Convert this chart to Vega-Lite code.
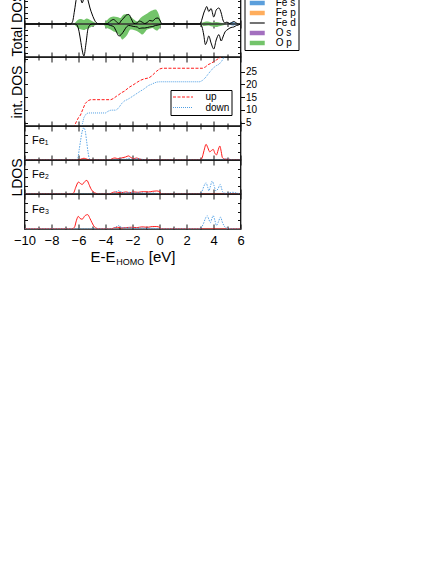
{
"$schema":"https://vega.github.io/schema/vega-lite/v6.json",
"padding":{"left":8.5,"top":-10,"right":0,"bottom":0},
"background":"white",
"spacing":0,
"bounds":"flush",
"config":{
  "font":"Liberation Sans",
  "view":{"stroke":"#111111","strokeWidth":1.3},
  "axis":{"grid":false,"domain":false,"labels":false,"tickColor":"#111111","tickWidth":1,"titleFontWeight":"normal","titleFontSize":14,"titleColor":"#000000","labelColor":"#000000","labelFontSize":13,"labelFlush":false,"labelOverlap":false,"titlePadding":0},
  "legend":{"labelFontSize":10,"labelColor":"#000000","strokeColor":"#000000","fillColor":"#ffffff"}
},
"resolve":{"scale":{"x":"independent","y":"independent","color":"independent","strokeDash":"independent"},"axis":{"x":"independent","y":"independent"},"legend":{"color":"independent","strokeDash":"independent"}},
"datasets":{
"tot":[
{"E":-10,"s":"Fe d","up":0,"dn":0},{"E":-6.6,"s":"Fe d","up":0,"dn":0},{"E":-6.45,"s":"Fe d","up":0.2,"dn":0},{"E":-6.3,"s":"Fe d","up":1.3,"dn":0},{"E":-6.15,"s":"Fe d","up":2.6,"dn":-0.05},{"E":-6.0,"s":"Fe d","up":3.1,"dn":-0.5},{"E":-5.85,"s":"Fe d","up":2.6,"dn":-1.6},{"E":-5.73,"s":"Fe d","up":2.1,"dn":-2.6},{"E":-5.6,"s":"Fe d","up":2.6,"dn":-3.2},{"E":-5.45,"s":"Fe d","up":3.0,"dn":-2.0},{"E":-5.3,"s":"Fe d","up":2.4,"dn":-0.5},{"E":-5.15,"s":"Fe d","up":1.6,"dn":-0.1},{"E":-5.0,"s":"Fe d","up":1.0,"dn":0},{"E":-4.85,"s":"Fe d","up":0.5,"dn":0},{"E":-4.7,"s":"Fe d","up":0.15,"dn":0},{"E":-4.5,"s":"Fe d","up":0.02,"dn":0},{"E":-4.0,"s":"Fe d","up":0,"dn":0},
{"E":-3.87,"s":"Fe d","up":0.02,"dn":-0.03},{"E":-3.63,"s":"Fe d","up":0.3,"dn":-0.15},{"E":-3.4,"s":"Fe d","up":0.45,"dn":-0.25},{"E":-3.25,"s":"Fe d","up":0.3,"dn":-0.6},{"E":-3.0,"s":"Fe d","up":0.05,"dn":-1.2},{"E":-2.8,"s":"Fe d","up":0.4,"dn":-1.0},{"E":-2.64,"s":"Fe d","up":0.6,"dn":-0.7},{"E":-2.45,"s":"Fe d","up":0.9,"dn":-0.3},{"E":-2.27,"s":"Fe d","up":0.95,"dn":-0.15},{"E":-2.05,"s":"Fe d","up":0.4,"dn":-0.2},{"E":-1.9,"s":"Fe d","up":0.05,"dn":-0.25},{"E":-1.65,"s":"Fe d","up":0.1,"dn":-0.3},{"E":-1.5,"s":"Fe d","up":0.3,"dn":-0.45},{"E":-1.3,"s":"Fe d","up":0.2,"dn":-0.4},{"E":-1.1,"s":"Fe d","up":0.05,"dn":-0.4},{"E":-0.9,"s":"Fe d","up":0.15,"dn":-0.35},{"E":-0.75,"s":"Fe d","up":0.35,"dn":-0.3},{"E":-0.5,"s":"Fe d","up":0.3,"dn":-0.25},{"E":-0.3,"s":"Fe d","up":0.55,"dn":-0.15},{"E":-0.1,"s":"Fe d","up":0.6,"dn":-0.1},{"E":0.05,"s":"Fe d","up":0.3,"dn":-0.05},{"E":0.2,"s":"Fe d","up":0,"dn":0},
{"E":3.0,"s":"Fe d","up":0,"dn":0},{"E":3.15,"s":"Fe d","up":0.5,"dn":-0.3},{"E":3.28,"s":"Fe d","up":1.1,"dn":-1.1},{"E":3.4,"s":"Fe d","up":1.5,"dn":-2.06},{"E":3.5,"s":"Fe d","up":1.75,"dn":-1.8},{"E":3.65,"s":"Fe d","up":1.25,"dn":-1.2},{"E":3.82,"s":"Fe d","up":1.55,"dn":-1.9},{"E":4.02,"s":"Fe d","up":0.7,"dn":-2.5},{"E":4.2,"s":"Fe d","up":1.4,"dn":-1.6},{"E":4.4,"s":"Fe d","up":1.6,"dn":-1.06},{"E":4.57,"s":"Fe d","up":1.1,"dn":-1.7},{"E":4.7,"s":"Fe d","up":0.4,"dn":-1.3},{"E":4.85,"s":"Fe d","up":0.1,"dn":-0.8},{"E":5.0,"s":"Fe d","up":0.2,"dn":-0.6},{"E":5.15,"s":"Fe d","up":0.05,"dn":-0.45},{"E":5.3,"s":"Fe d","up":0.1,"dn":-0.35},{"E":5.5,"s":"Fe d","up":0.25,"dn":-0.3},{"E":5.7,"s":"Fe d","up":0.1,"dn":-0.15},{"E":5.85,"s":"Fe d","up":0,"dn":-0.1},{"E":6.0,"s":"Fe d","up":0,"dn":0},
{"E":-10,"s":"O p","up":0,"dn":0},{"E":-6.4,"s":"O p","up":0,"dn":0},{"E":-6.2,"s":"O p","up":0.2,"dn":-0.2},{"E":-6.0,"s":"O p","up":0.45,"dn":-0.45},{"E":-5.8,"s":"O p","up":0.5,"dn":-0.55},{"E":-5.6,"s":"O p","up":0.4,"dn":-0.6},{"E":-5.4,"s":"O p","up":0.55,"dn":-0.5},{"E":-5.2,"s":"O p","up":0.45,"dn":-0.4},{"E":-5.0,"s":"O p","up":0.3,"dn":-0.25},{"E":-4.8,"s":"O p","up":0.15,"dn":-0.15},{"E":-4.6,"s":"O p","up":0.03,"dn":-0.03},{"E":-4.4,"s":"O p","up":0,"dn":0},{"E":-4.15,"s":"O p","up":0,"dn":0},{"E":-4.0,"s":"O p","up":0.2,"dn":-0.33},{"E":-3.8,"s":"O p","up":0.5,"dn":-0.45},{"E":-3.63,"s":"O p","up":0.67,"dn":-0.56},{"E":-3.4,"s":"O p","up":0.75,"dn":-0.75},{"E":-3.14,"s":"O p","up":0.7,"dn":-0.9},{"E":-2.89,"s":"O p","up":0.6,"dn":-1.3},{"E":-2.76,"s":"O p","up":0.8,"dn":-1.56},{"E":-2.64,"s":"O p","up":0.94,"dn":-1.45},{"E":-2.4,"s":"O p","up":1.0,"dn":-1.1},{"E":-2.15,"s":"O p","up":0.75,"dn":-0.56},{"E":-1.9,"s":"O p","up":0.45,"dn":-0.6},{"E":-1.65,"s":"O p","up":0.27,"dn":-0.73},{"E":-1.41,"s":"O p","up":0.6,"dn":-0.95},{"E":-1.28,"s":"O p","up":0.75,"dn":-1.06},{"E":-1.04,"s":"O p","up":0.94,"dn":-0.75},{"E":-0.91,"s":"O p","up":1.05,"dn":-0.56},{"E":-0.67,"s":"O p","up":1.27,"dn":-0.45},{"E":-0.54,"s":"O p","up":1.35,"dn":-0.4},{"E":-0.3,"s":"O p","up":1.44,"dn":-0.6},{"E":-0.17,"s":"O p","up":1.3,"dn":-0.66},{"E":-0.05,"s":"O p","up":0.94,"dn":-0.5},{"E":0.07,"s":"O p","up":0.4,"dn":-0.23},{"E":0.15,"s":"O p","up":0,"dn":0},{"E":2.9,"s":"O p","up":0,"dn":0},{"E":3.1,"s":"O p","up":0.1,"dn":-0.1},{"E":3.3,"s":"O p","up":0.2,"dn":-0.2},{"E":3.6,"s":"O p","up":0.25,"dn":-0.15},{"E":3.9,"s":"O p","up":0.15,"dn":-0.25},{"E":4.2,"s":"O p","up":0.2,"dn":-0.3},{"E":4.5,"s":"O p","up":0.12,"dn":-0.2},{"E":4.8,"s":"O p","up":0.05,"dn":-0.1},{"E":5.0,"s":"O p","up":0,"dn":0},{"E":6,"s":"O p","up":0,"dn":0},
{"E":-10,"s":"Fe s","up":0,"dn":0},{"E":-4.0,"s":"Fe s","up":0,"dn":0},{"E":-3.85,"s":"Fe s","up":0.1,"dn":-0.05},{"E":-3.65,"s":"Fe s","up":0.05,"dn":-0.1},{"E":-3.45,"s":"Fe s","up":0,"dn":0},{"E":5.0,"s":"Fe s","up":0,"dn":0},{"E":5.2,"s":"Fe s","up":0.1,"dn":-0.08},{"E":5.45,"s":"Fe s","up":0.2,"dn":-0.15},{"E":5.7,"s":"Fe s","up":0.05,"dn":-0.05},{"E":5.9,"s":"Fe s","up":0,"dn":0},{"E":6,"s":"Fe s","up":0,"dn":0},
{"E":-10,"s":"Fe p","up":0,"dn":0},{"E":-3.1,"s":"Fe p","up":0,"dn":0},{"E":-2.9,"s":"Fe p","up":0.08,"dn":-0.05},{"E":-2.7,"s":"Fe p","up":0,"dn":0},{"E":-0.9,"s":"Fe p","up":0,"dn":0},{"E":-0.7,"s":"Fe p","up":0.1,"dn":-0.05},{"E":-0.5,"s":"Fe p","up":0,"dn":0},{"E":6,"s":"Fe p","up":0,"dn":0},
{"E":-10,"s":"O s","up":0,"dn":0},{"E":6,"s":"O s","up":0,"dn":0}
],
"idos":[
{"E":-10,"spin":"up","N":0},{"E":-6.6,"spin":"up","N":0},{"E":-6.45,"spin":"up","N":1.5},{"E":-6.3,"spin":"up","N":3.7},{"E":-6.15,"spin":"up","N":5.5},{"E":-6.0,"spin":"up","N":7},{"E":-5.85,"spin":"up","N":8},{"E":-5.7,"spin":"up","N":10},{"E":-5.5,"spin":"up","N":12.5},{"E":-5.3,"spin":"up","N":13.6},{"E":-5.1,"spin":"up","N":14},{"E":-3.6,"spin":"up","N":14},{"E":-3.4,"spin":"up","N":14.5},{"E":-3.2,"spin":"up","N":15.3},{"E":-3.0,"spin":"up","N":16},{"E":-2.8,"spin":"up","N":16.8},{"E":-2.6,"spin":"up","N":17.3},{"E":-2.4,"spin":"up","N":18.2},{"E":-2.2,"spin":"up","N":19},{"E":-2.0,"spin":"up","N":19.6},{"E":-1.8,"spin":"up","N":20.3},{"E":-1.6,"spin":"up","N":21},{"E":-1.4,"spin":"up","N":21.6},{"E":-1.2,"spin":"up","N":22},{"E":-1.0,"spin":"up","N":22.3},{"E":-0.8,"spin":"up","N":22.5},{"E":-0.6,"spin":"up","N":23.2},{"E":-0.4,"spin":"up","N":24.2},{"E":-0.2,"spin":"up","N":25.2},{"E":0.0,"spin":"up","N":26},{"E":0.2,"spin":"up","N":26.3},{"E":3.2,"spin":"up","N":26.3},{"E":3.4,"spin":"up","N":26.8},{"E":3.6,"spin":"up","N":27.7},{"E":3.8,"spin":"up","N":28.2},{"E":4.0,"spin":"up","N":28.8},{"E":4.2,"spin":"up","N":29.5},{"E":4.4,"spin":"up","N":30.2},{"E":4.6,"spin":"up","N":31},{"E":4.8,"spin":"up","N":31.5},{"E":6,"spin":"up","N":32},
{"E":-10,"spin":"down","N":0},{"E":-6.0,"spin":"down","N":0},{"E":-5.9,"spin":"down","N":1.5},{"E":-5.8,"spin":"down","N":3},{"E":-5.7,"spin":"down","N":4.8},{"E":-5.6,"spin":"down","N":7},{"E":-5.45,"spin":"down","N":8.3},{"E":-5.3,"spin":"down","N":8.8},{"E":-4.0,"spin":"down","N":8.8},{"E":-3.8,"spin":"down","N":9.5},{"E":-3.6,"spin":"down","N":9.9},{"E":-3.2,"spin":"down","N":9.9},{"E":-3.0,"spin":"down","N":11},{"E":-2.8,"spin":"down","N":12.5},{"E":-2.6,"spin":"down","N":13.5},{"E":-2.4,"spin":"down","N":14},{"E":-2.2,"spin":"down","N":14.6},{"E":-2.0,"spin":"down","N":15.3},{"E":-1.8,"spin":"down","N":16},{"E":-1.6,"spin":"down","N":16.7},{"E":-1.4,"spin":"down","N":17.4},{"E":-1.2,"spin":"down","N":18},{"E":-1.0,"spin":"down","N":18.8},{"E":-0.8,"spin":"down","N":19.6},{"E":-0.6,"spin":"down","N":20},{"E":-0.4,"spin":"down","N":20.5},{"E":-0.2,"spin":"down","N":20.9},{"E":0.0,"spin":"down","N":21},{"E":3.0,"spin":"down","N":21},{"E":3.2,"spin":"down","N":21.6},{"E":3.4,"spin":"down","N":22.6},{"E":3.6,"spin":"down","N":24},{"E":3.8,"spin":"down","N":25.3},{"E":4.0,"spin":"down","N":26.5},{"E":4.2,"spin":"down","N":27.3},{"E":4.4,"spin":"down","N":27.8},{"E":4.6,"spin":"down","N":29},{"E":4.8,"spin":"down","N":30.8},{"E":5.0,"spin":"down","N":32},{"E":6,"spin":"down","N":33}
],
"ldos":[
{"E":-10,"atom":"Fe1","spin":"up","v":0},{"E":-6.0,"atom":"Fe1","spin":"up","v":0},{"E":-5.8,"atom":"Fe1","spin":"up","v":0.03},{"E":-5.6,"atom":"Fe1","spin":"up","v":0.05},{"E":-5.4,"atom":"Fe1","spin":"up","v":0.03},{"E":-5.2,"atom":"Fe1","spin":"up","v":0},{"E":-3.7,"atom":"Fe1","spin":"up","v":0},{"E":-3.5,"atom":"Fe1","spin":"up","v":0.04},{"E":-3.3,"atom":"Fe1","spin":"up","v":0.06},{"E":-3.1,"atom":"Fe1","spin":"up","v":0.04},{"E":-2.9,"atom":"Fe1","spin":"up","v":0.05},{"E":-2.7,"atom":"Fe1","spin":"up","v":0.07},{"E":-2.5,"atom":"Fe1","spin":"up","v":0.09},{"E":-2.3,"atom":"Fe1","spin":"up","v":0.12},{"E":-2.1,"atom":"Fe1","spin":"up","v":0.07},{"E":-1.9,"atom":"Fe1","spin":"up","v":0.04},{"E":-1.7,"atom":"Fe1","spin":"up","v":0.06},{"E":-1.5,"atom":"Fe1","spin":"up","v":0.03},{"E":-1.2,"atom":"Fe1","spin":"up","v":0.01},{"E":-0.8,"atom":"Fe1","spin":"up","v":0},{"E":3.0,"atom":"Fe1","spin":"up","v":0},{"E":3.15,"atom":"Fe1","spin":"up","v":0.06},{"E":3.3,"atom":"Fe1","spin":"up","v":0.28},{"E":3.45,"atom":"Fe1","spin":"up","v":0.46},{"E":3.58,"atom":"Fe1","spin":"up","v":0.36},{"E":3.72,"atom":"Fe1","spin":"up","v":0.24},{"E":3.85,"atom":"Fe1","spin":"up","v":0.28},{"E":3.98,"atom":"Fe1","spin":"up","v":0.31},{"E":4.1,"atom":"Fe1","spin":"up","v":0.2},{"E":4.22,"atom":"Fe1","spin":"up","v":0.15},{"E":4.35,"atom":"Fe1","spin":"up","v":0.3},{"E":4.47,"atom":"Fe1","spin":"up","v":0.41},{"E":4.57,"atom":"Fe1","spin":"up","v":0.25},{"E":4.66,"atom":"Fe1","spin":"up","v":0.07},{"E":4.8,"atom":"Fe1","spin":"up","v":0.03},{"E":5.0,"atom":"Fe1","spin":"up","v":0.02},{"E":5.2,"atom":"Fe1","spin":"up","v":0.02},{"E":5.4,"atom":"Fe1","spin":"up","v":0},{"E":6,"atom":"Fe1","spin":"up","v":0},
{"E":-10,"atom":"Fe1","spin":"down","v":0},{"E":-6.2,"atom":"Fe1","spin":"down","v":0},{"E":-6.05,"atom":"Fe1","spin":"down","v":0.06},{"E":-5.95,"atom":"Fe1","spin":"down","v":0.3},{"E":-5.85,"atom":"Fe1","spin":"down","v":0.56},{"E":-5.72,"atom":"Fe1","spin":"down","v":0.85},{"E":-5.6,"atom":"Fe1","spin":"down","v":0.95},{"E":-5.5,"atom":"Fe1","spin":"down","v":0.85},{"E":-5.4,"atom":"Fe1","spin":"down","v":0.56},{"E":-5.3,"atom":"Fe1","spin":"down","v":0.25},{"E":-5.2,"atom":"Fe1","spin":"down","v":0.05},{"E":-5.05,"atom":"Fe1","spin":"down","v":0},{"E":-3.4,"atom":"Fe1","spin":"down","v":0},{"E":-3.1,"atom":"Fe1","spin":"down","v":0.02},{"E":-2.8,"atom":"Fe1","spin":"down","v":0.03},{"E":-2.5,"atom":"Fe1","spin":"down","v":0.02},{"E":-2.25,"atom":"Fe1","spin":"down","v":0.05},{"E":-2.0,"atom":"Fe1","spin":"down","v":0.02},{"E":-1.6,"atom":"Fe1","spin":"down","v":0.04},{"E":-1.3,"atom":"Fe1","spin":"down","v":0.02},{"E":-0.8,"atom":"Fe1","spin":"down","v":0},{"E":4.4,"atom":"Fe1","spin":"down","v":0},{"E":4.7,"atom":"Fe1","spin":"down","v":0.02},{"E":5.0,"atom":"Fe1","spin":"down","v":0.03},{"E":5.3,"atom":"Fe1","spin":"down","v":0.01},{"E":5.6,"atom":"Fe1","spin":"down","v":0},{"E":6,"atom":"Fe1","spin":"down","v":0},
{"E":-10,"atom":"Fe2","spin":"up","v":0},{"E":-6.5,"atom":"Fe2","spin":"up","v":0},{"E":-6.35,"atom":"Fe2","spin":"up","v":0.04},{"E":-6.2,"atom":"Fe2","spin":"up","v":0.2},{"E":-6.0,"atom":"Fe2","spin":"up","v":0.35},{"E":-5.86,"atom":"Fe2","spin":"up","v":0.31},{"E":-5.73,"atom":"Fe2","spin":"up","v":0.28},{"E":-5.55,"atom":"Fe2","spin":"up","v":0.36},{"E":-5.38,"atom":"Fe2","spin":"up","v":0.4},{"E":-5.22,"atom":"Fe2","spin":"up","v":0.28},{"E":-5.1,"atom":"Fe2","spin":"up","v":0.17},{"E":-4.9,"atom":"Fe2","spin":"up","v":0.06},{"E":-4.7,"atom":"Fe2","spin":"up","v":0.02},{"E":-4.5,"atom":"Fe2","spin":"up","v":0},{"E":-3.7,"atom":"Fe2","spin":"up","v":0},{"E":-3.5,"atom":"Fe2","spin":"up","v":0.04},{"E":-3.3,"atom":"Fe2","spin":"up","v":0.06},{"E":-3.1,"atom":"Fe2","spin":"up","v":0.05},{"E":-2.8,"atom":"Fe2","spin":"up","v":0.04},{"E":-2.5,"atom":"Fe2","spin":"up","v":0.06},{"E":-2.2,"atom":"Fe2","spin":"up","v":0.04},{"E":-1.9,"atom":"Fe2","spin":"up","v":0.06},{"E":-1.6,"atom":"Fe2","spin":"up","v":0.05},{"E":-1.2,"atom":"Fe2","spin":"up","v":0.07},{"E":-0.8,"atom":"Fe2","spin":"up","v":0.06},{"E":-0.5,"atom":"Fe2","spin":"up","v":0.08},{"E":-0.2,"atom":"Fe2","spin":"up","v":0.09},{"E":0.0,"atom":"Fe2","spin":"up","v":0.07},{"E":0.1,"atom":"Fe2","spin":"up","v":0},{"E":6,"atom":"Fe2","spin":"up","v":0},
{"E":-10,"atom":"Fe2","spin":"down","v":0},{"E":-3.5,"atom":"Fe2","spin":"down","v":0},{"E":-3.3,"atom":"Fe2","spin":"down","v":0.04},{"E":-3.05,"atom":"Fe2","spin":"down","v":0.1},{"E":-2.85,"atom":"Fe2","spin":"down","v":0.06},{"E":-2.6,"atom":"Fe2","spin":"down","v":0.03},{"E":-2.2,"atom":"Fe2","spin":"down","v":0.05},{"E":-1.9,"atom":"Fe2","spin":"down","v":0.03},{"E":-1.4,"atom":"Fe2","spin":"down","v":0.04},{"E":-1.0,"atom":"Fe2","spin":"down","v":0.02},{"E":-0.5,"atom":"Fe2","spin":"down","v":0.03},{"E":0,"atom":"Fe2","spin":"down","v":0},{"E":3.0,"atom":"Fe2","spin":"down","v":0},{"E":3.15,"atom":"Fe2","spin":"down","v":0.08},{"E":3.3,"atom":"Fe2","spin":"down","v":0.24},{"E":3.45,"atom":"Fe2","spin":"down","v":0.33},{"E":3.57,"atom":"Fe2","spin":"down","v":0.2},{"E":3.66,"atom":"Fe2","spin":"down","v":0.09},{"E":3.78,"atom":"Fe2","spin":"down","v":0.24},{"E":3.9,"atom":"Fe2","spin":"down","v":0.38},{"E":4.03,"atom":"Fe2","spin":"down","v":0.26},{"E":4.18,"atom":"Fe2","spin":"down","v":0.09},{"E":4.33,"atom":"Fe2","spin":"down","v":0.15},{"E":4.5,"atom":"Fe2","spin":"down","v":0.28},{"E":4.6,"atom":"Fe2","spin":"down","v":0.16},{"E":4.7,"atom":"Fe2","spin":"down","v":0.05},{"E":4.9,"atom":"Fe2","spin":"down","v":0.02},{"E":5.15,"atom":"Fe2","spin":"down","v":0.03},{"E":5.4,"atom":"Fe2","spin":"down","v":0.05},{"E":5.6,"atom":"Fe2","spin":"down","v":0.04},{"E":5.8,"atom":"Fe2","spin":"down","v":0.02},{"E":6,"atom":"Fe2","spin":"down","v":0.01},
{"E":-10,"atom":"Fe3","spin":"up","v":0},{"E":-6.5,"atom":"Fe3","spin":"up","v":0},{"E":-6.3,"atom":"Fe3","spin":"up","v":0.05},{"E":-6.15,"atom":"Fe3","spin":"up","v":0.25},{"E":-6.02,"atom":"Fe3","spin":"up","v":0.36},{"E":-5.88,"atom":"Fe3","spin":"up","v":0.3},{"E":-5.73,"atom":"Fe3","spin":"up","v":0.28},{"E":-5.52,"atom":"Fe3","spin":"up","v":0.38},{"E":-5.32,"atom":"Fe3","spin":"up","v":0.41},{"E":-5.15,"atom":"Fe3","spin":"up","v":0.3},{"E":-5.0,"atom":"Fe3","spin":"up","v":0.18},{"E":-4.82,"atom":"Fe3","spin":"up","v":0.06},{"E":-4.65,"atom":"Fe3","spin":"up","v":0.02},{"E":-4.5,"atom":"Fe3","spin":"up","v":0},{"E":-3.6,"atom":"Fe3","spin":"up","v":0},{"E":-3.4,"atom":"Fe3","spin":"up","v":0.03},{"E":-3.1,"atom":"Fe3","spin":"up","v":0.05},{"E":-2.8,"atom":"Fe3","spin":"up","v":0.03},{"E":-2.5,"atom":"Fe3","spin":"up","v":0.04},{"E":-2.1,"atom":"Fe3","spin":"up","v":0.05},{"E":-1.7,"atom":"Fe3","spin":"up","v":0.04},{"E":-1.3,"atom":"Fe3","spin":"up","v":0.06},{"E":-0.9,"atom":"Fe3","spin":"up","v":0.05},{"E":-0.5,"atom":"Fe3","spin":"up","v":0.07},{"E":-0.2,"atom":"Fe3","spin":"up","v":0.07},{"E":0.0,"atom":"Fe3","spin":"up","v":0.05},{"E":0.1,"atom":"Fe3","spin":"up","v":0},{"E":6,"atom":"Fe3","spin":"up","v":0},
{"E":-10,"atom":"Fe3","spin":"down","v":0},{"E":-3.5,"atom":"Fe3","spin":"down","v":0},{"E":-3.25,"atom":"Fe3","spin":"down","v":0.05},{"E":-3.05,"atom":"Fe3","spin":"down","v":0.1},{"E":-2.85,"atom":"Fe3","spin":"down","v":0.05},{"E":-2.5,"atom":"Fe3","spin":"down","v":0.03},{"E":-2.2,"atom":"Fe3","spin":"down","v":0.04},{"E":-1.8,"atom":"Fe3","spin":"down","v":0.02},{"E":-1.4,"atom":"Fe3","spin":"down","v":0.03},{"E":-1.0,"atom":"Fe3","spin":"down","v":0.02},{"E":-0.5,"atom":"Fe3","spin":"down","v":0.02},{"E":0,"atom":"Fe3","spin":"down","v":0},{"E":3.0,"atom":"Fe3","spin":"down","v":0},{"E":3.12,"atom":"Fe3","spin":"down","v":0.05},{"E":3.25,"atom":"Fe3","spin":"down","v":0.15},{"E":3.4,"atom":"Fe3","spin":"down","v":0.3},{"E":3.53,"atom":"Fe3","spin":"down","v":0.38},{"E":3.65,"atom":"Fe3","spin":"down","v":0.28},{"E":3.77,"atom":"Fe3","spin":"down","v":0.18},{"E":3.88,"atom":"Fe3","spin":"down","v":0.3},{"E":3.98,"atom":"Fe3","spin":"down","v":0.38},{"E":4.1,"atom":"Fe3","spin":"down","v":0.25},{"E":4.22,"atom":"Fe3","spin":"down","v":0.1},{"E":4.36,"atom":"Fe3","spin":"down","v":0.2},{"E":4.52,"atom":"Fe3","spin":"down","v":0.34},{"E":4.65,"atom":"Fe3","spin":"down","v":0.2},{"E":4.77,"atom":"Fe3","spin":"down","v":0.1},{"E":4.95,"atom":"Fe3","spin":"down","v":0.03},{"E":5.2,"atom":"Fe3","spin":"down","v":0.01},{"E":5.5,"atom":"Fe3","spin":"down","v":0},{"E":6,"atom":"Fe3","spin":"down","v":0}
]
},
"vconcat":[
{
 "width":216,"height":66,
 "data":{"name":"tot"},
 "resolve":{"axis":{"x":"independent","y":"independent"}},
 "layer":[
  {"transform":[{"filter":"datum.s === 'O p'"}],
   "mark":{"type":"area","clip":true,"interpolate":"monotone"},
   "encoding":{
    "x":{"field":"E","type":"quantitative","scale":{"domain":[-10,6],"nice":false,"zero":false},"axis":{"orient":"bottom","values":[-10,-8,-6,-4,-2,0,2,4,6],"tickSize":-5,"title":null}},
    "y":{"field":"up","type":"quantitative","stack":null,"scale":{"domain":[-3.3,3.3],"nice":false,"zero":false},"axis":{"orient":"left","values":[-2.85,-2.28,-1.71,-1.14,-0.57,0.57,1.14,1.71,2.28,2.85],"tickSize":-3,"title":"Total DOS"}},
    "color":{"field":"s","type":"nominal","scale":{"domain":["Fe s","Fe p","Fe d","O s","O p"],"range":["#5b9fdc","#ffad5c","#000000","#a36fbf","#73c46a"]},
      "legend":{"orient":"none","legendX":220,"legendY":5,"title":null,"padding":2,"rowPadding":0,"symbolOffset":5.75,"labelOffset":13.5,"symbolSize":56,"labelFontSize":10,"strokeColor":"#000000","fillColor":"#ffffff","symbolType":"M-2,-0.6H2V0.6H-2Z",
        "encode":{"symbols":{"update":{"shape":{"signal":"datum.value === 'Fe d' ? 'M-2,0H2' : 'M-2,-0.6H2V0.6H-2Z'"},"stroke":{"value":"#000000"},"strokeWidth":{"signal":"datum.value === 'Fe d' ? 1.1 : 0"}}}}}}
   }},
  {"transform":[{"filter":"datum.s === 'O p'"}],
   "mark":{"type":"area","clip":true,"interpolate":"monotone"},
   "encoding":{
    "x":{"field":"E","type":"quantitative","scale":{"domain":[-10,6],"nice":false,"zero":false},"axis":{"orient":"bottom","values":[-9,-7,-5,-3,-1,1,3,5],"tickSize":-3,"title":null}},
    "y":{"field":"dn","type":"quantitative","stack":null,"scale":{"domain":[-3.3,3.3],"nice":false,"zero":false},"axis":{"orient":"right","values":[-2.85,-2.28,-1.71,-1.14,-0.57,0.57,1.14,1.71,2.28,2.85],"tickSize":-3,"title":null}},
    "color":{"field":"s","type":"nominal"}
   }},
  {"transform":[{"filter":"datum.s !== 'O p' && datum.s !== 'Fe d'"}],
   "mark":{"type":"area","clip":true,"interpolate":"monotone"},
   "encoding":{
    "x":{"field":"E","type":"quantitative","axis":{"orient":"bottom","values":[-10,-8,-6,-4,-2,0,2,4,6],"tickSize":-8,"offset":-29,"title":null}},
    "y":{"field":"up","type":"quantitative","stack":null,"axis":null},
    "color":{"field":"s","type":"nominal"}
   }},
  {"transform":[{"filter":"datum.s !== 'O p' && datum.s !== 'Fe d'"}],
   "mark":{"type":"area","clip":true,"interpolate":"monotone"},
   "encoding":{
    "x":{"field":"E","type":"quantitative","axis":{"orient":"bottom","values":[-9,-7,-5,-3,-1,1,3,5],"tickSize":-5,"offset":-30.5,"title":null}},
    "y":{"field":"dn","type":"quantitative","stack":null,"axis":null},
    "color":{"field":"s","type":"nominal"}
   }},
  {"data":{"values":[{}]},
   "mark":{"type":"rule","color":"#333333","strokeWidth":1.5},
   "encoding":{"y":{"datum":0,"type":"quantitative","axis":null}}},
  {"transform":[{"filter":"datum.s === 'Fe d'"}],
   "mark":{"type":"line","clip":true,"strokeWidth":1,"interpolate":"monotone"},
   "encoding":{
    "x":{"field":"E","type":"quantitative","axis":null},
    "y":{"field":"up","type":"quantitative","axis":null},
    "color":{"field":"s","type":"nominal"}
   }},
  {"transform":[{"filter":"datum.s === 'Fe d'"}],
   "mark":{"type":"line","clip":true,"strokeWidth":1,"interpolate":"monotone"},
   "encoding":{
    "x":{"field":"E","type":"quantitative","axis":null},
    "y":{"field":"dn","type":"quantitative","axis":null},
    "color":{"field":"s","type":"nominal"}
   }}
 ]
},
{
 "width":216,"height":69,
 "data":{"name":"idos"},
 "resolve":{"axis":{"x":"independent","y":"independent"}},
 "layer":[
  {"mark":{"type":"line","clip":true,"strokeWidth":1},
   "encoding":{
    "x":{"field":"E","type":"quantitative","scale":{"domain":[-10,6],"nice":false,"zero":false},"axis":{"orient":"bottom","values":[-10,-8,-6,-4,-2,0,2,4,6],"tickSize":-5,"title":null}},
    "y":{"field":"N","type":"quantitative","scale":{"domain":[3.7,30.7],"nice":false,"zero":false},"axis":{"orient":"left","values":[5,10,15,20,25,30],"tickSize":-3,"title":"int. DOS"}},
    "color":{"field":"spin","type":"nominal","scale":{"domain":["up","down"],"range":["#ff1a1a","#4f9fe3"]},
      "legend":{"orient":"none","legendX":146,"legendY":33,"title":null,"padding":2,"rowPadding":0.5,"symbolOffset":5.5,"labelOffset":17.5,"symbolType":"M-4,0H4","symbolSize":25,"symbolStrokeWidth":1,"labelFontSize":10,"strokeColor":"#000000","fillColor":"#ffffff",
        "encode":{"symbols":{"update":{"strokeDash":{"signal":"datum.value === 'up' ? [3,1.5] : [1,1]"},"stroke":{"signal":"datum.value === 'up' ? '#ff1a1a' : '#4f9fe3'"},"strokeWidth":{"value":1}}}}}},
    "strokeDash":{"field":"spin","type":"nominal","scale":{"domain":["up","down"],"range":[[3,1.5],[1,1]]},"legend":null}
   }},
  {"data":{"values":[{}]},"mark":{"type":"point","opacity":0},
   "encoding":{
    "x":{"datum":0,"type":"quantitative","axis":{"orient":"bottom","values":[-9,-7,-5,-3,-1,1,3,5],"tickSize":-3,"title":null}},
    "y":{"datum":10,"type":"quantitative","axis":{"orient":"right","values":[5,10,15,20,25],"labels":true,"tickSize":4,"labelFontSize":10,"labelPadding":1,"title":null}}
   }},
  {"data":{"values":[{}]},"mark":{"type":"point","opacity":0},
   "encoding":{
    "x":{"datum":0,"type":"quantitative","axis":{"orient":"top","values":[-10,-8,-6,-4,-2,0,2,4,6],"tickSize":-5,"title":null}},
    "y":{"datum":10,"type":"quantitative","axis":null}
   }},
  {"data":{"values":[{}]},"mark":{"type":"point","opacity":0},
   "encoding":{
    "x":{"datum":0,"type":"quantitative","axis":{"orient":"top","values":[-9,-7,-5,-3,-1,1,3,5],"tickSize":-3,"title":null}},
    "y":{"datum":10,"type":"quantitative","axis":null}
   }}
 ]
},
{
 "width":216,"height":34,
 "data":{"name":"ldos"},
 "resolve":{"axis":{"x":"independent","y":"independent"}},
 "layer":[
  {"transform":[{"filter":"datum.atom === 'Fe1'"}],
   "mark":{"type":"line","clip":true,"strokeWidth":1,"interpolate":"monotone"},
   "encoding":{
    "x":{"field":"E","type":"quantitative","scale":{"domain":[-10,6],"nice":false,"zero":false},"axis":{"orient":"bottom","values":[-10,-8,-6,-4,-2,0,2,4,6],"tickSize":-5,"title":null}},
    "y":{"field":"v","type":"quantitative","scale":{"domain":[0,1],"nice":false,"zero":false},"axis":{"orient":"left","values":[0.25,0.5,0.75],"tickSize":-3,"title":null}},
    "color":{"field":"spin","type":"nominal","scale":{"domain":["up","down"],"range":["#ff1a1a","#5aa5e6"]},"legend":null},
    "strokeDash":{"field":"spin","type":"nominal","scale":{"domain":["up","down"],"range":[[6,0],[1.5,1.2]]},"legend":null}
   }},
  {"data":{"values":[{}]},"mark":{"type":"text","text":"Fe₁","align":"left","baseline":"alphabetic","fontSize":11,"color":"#000000"},
   "encoding":{
    "x":{"datum":-9.45,"type":"quantitative","axis":{"orient":"bottom","values":[-9,-7,-5,-3,-1,1,3,5],"tickSize":-3,"title":null}},
    "y":{"datum":0.47,"type":"quantitative","axis":{"orient":"right","values":[0.25,0.5,0.75],"tickSize":-3,"title":null}}
   }},
  {"data":{"values":[{}]},"mark":{"type":"point","opacity":0},
   "encoding":{
    "x":{"datum":0,"type":"quantitative","axis":{"orient":"top","values":[-10,-8,-6,-4,-2,0,2,4,6],"tickSize":-5,"title":null}},
    "y":{"datum":0.5,"type":"quantitative","axis":null}
   }},
  {"data":{"values":[{}]},"mark":{"type":"point","opacity":0},
   "encoding":{
    "x":{"datum":0,"type":"quantitative","axis":{"orient":"top","values":[-9,-7,-5,-3,-1,1,3,5],"tickSize":-3,"title":null}},
    "y":{"datum":0.5,"type":"quantitative","axis":null}
   }}
 ]
},
{
 "width":216,"height":34,
 "data":{"name":"ldos"},
 "resolve":{"axis":{"x":"independent","y":"independent"}},
 "layer":[
  {"transform":[{"filter":"datum.atom === 'Fe2'"}],
   "mark":{"type":"line","clip":true,"strokeWidth":1,"interpolate":"monotone"},
   "encoding":{
    "x":{"field":"E","type":"quantitative","scale":{"domain":[-10,6],"nice":false,"zero":false},"axis":{"orient":"bottom","values":[-10,-8,-6,-4,-2,0,2,4,6],"tickSize":-5,"title":null}},
    "y":{"field":"v","type":"quantitative","scale":{"domain":[0,1],"nice":false,"zero":false},"axis":{"orient":"left","values":[0.25,0.5,0.75],"tickSize":-3,"title":"LDOS"}},
    "color":{"field":"spin","type":"nominal","scale":{"domain":["up","down"],"range":["#ff1a1a","#5aa5e6"]},"legend":null},
    "strokeDash":{"field":"spin","type":"nominal","scale":{"domain":["up","down"],"range":[[6,0],[1.5,1.2]]},"legend":null}
   }},
  {"data":{"values":[{}]},"mark":{"type":"text","text":"Fe₂","align":"left","baseline":"alphabetic","fontSize":11,"color":"#000000"},
   "encoding":{
    "x":{"datum":-9.45,"type":"quantitative","axis":{"orient":"bottom","values":[-9,-7,-5,-3,-1,1,3,5],"tickSize":-3,"title":null}},
    "y":{"datum":0.47,"type":"quantitative","axis":{"orient":"right","values":[0.25,0.5,0.75],"tickSize":-3,"title":null}}
   }},
  {"data":{"values":[{}]},"mark":{"type":"point","opacity":0},
   "encoding":{
    "x":{"datum":0,"type":"quantitative","axis":{"orient":"top","values":[-10,-8,-6,-4,-2,0,2,4,6],"tickSize":-5,"title":null}},
    "y":{"datum":0.5,"type":"quantitative","axis":null}
   }},
  {"data":{"values":[{}]},"mark":{"type":"point","opacity":0},
   "encoding":{
    "x":{"datum":0,"type":"quantitative","axis":{"orient":"top","values":[-9,-7,-5,-3,-1,1,3,5],"tickSize":-3,"title":null}},
    "y":{"datum":0.5,"type":"quantitative","axis":null}
   }}
 ]
},
{
 "width":216,"height":35,
 "data":{"name":"ldos"},
 "resolve":{"axis":{"x":"independent","y":"independent"}},
 "layer":[
  {"transform":[{"filter":"datum.atom === 'Fe3'"}],
   "mark":{"type":"line","clip":true,"strokeWidth":1,"interpolate":"monotone"},
   "encoding":{
    "x":{"field":"E","type":"quantitative","scale":{"domain":[-10,6],"nice":false,"zero":false},"axis":{"orient":"bottom","values":[-10,-8,-6,-4,-2,0,2,4,6],"tickSize":-5,"title":null}},
    "y":{"field":"v","type":"quantitative","scale":{"domain":[0,1],"nice":false,"zero":false},"axis":{"orient":"left","values":[0.25,0.5,0.75],"tickSize":-3,"title":null}},
    "color":{"field":"spin","type":"nominal","scale":{"domain":["up","down"],"range":["#ff1a1a","#5aa5e6"]},"legend":null},
    "strokeDash":{"field":"spin","type":"nominal","scale":{"domain":["up","down"],"range":[[6,0],[1.5,1.2]]},"legend":null}
   }},
  {"data":{"values":[{}]},"mark":{"type":"text","text":"Fe₃","align":"left","baseline":"alphabetic","fontSize":11,"color":"#000000"},
   "encoding":{
    "x":{"datum":-9.45,"type":"quantitative","axis":{"orient":"bottom","values":[-9,-7,-5,-3,-1,1,3,5],"tickSize":-3,"title":null}},
    "y":{"datum":0.47,"type":"quantitative","axis":{"orient":"right","values":[0.25,0.5,0.75],"tickSize":-3,"title":null}}
   }},
  {"data":{"values":[{}]},"mark":{"type":"point","opacity":0},
   "encoding":{
    "x":{"datum":0,"type":"quantitative","axis":{"orient":"top","values":[-10,-8,-6,-4,-2,0,2,4,6],"tickSize":-5,"title":null}},
    "y":{"datum":0.5,"type":"quantitative","axis":null}
   }},
  {"data":{"values":[{}]},"mark":{"type":"point","opacity":0},
   "encoding":{
    "x":{"datum":0,"type":"quantitative","axis":{"orient":"top","values":[-9,-7,-5,-3,-1,1,3,5],"tickSize":-3,"title":null}},
    "y":{"datum":0.5,"type":"quantitative","axis":null}
   }},
  {"data":{"values":[{}]},"mark":{"type":"text","text":"HOMO","align":"left","baseline":"alphabetic","fontSize":9,"clip":false,"color":"#000000"},
   "encoding":{
    "x":{"datum":-3.2,"type":"quantitative","axis":{"orient":"bottom","values":[-10,-8,-6,-4,-2,0,2,4,6],"labels":true,"ticks":false,"labelPadding":5,"labelFontSize":13,"title":"E-E\u00a0\u00a0\u00a0\u00a0\u00a0\u00a0\u00a0\u00a0[eV]","titleFontSize":15,"titlePadding":2}},
    "y":{"datum":-1.03,"type":"quantitative","axis":null}
   }}
 ]
}
]
}
